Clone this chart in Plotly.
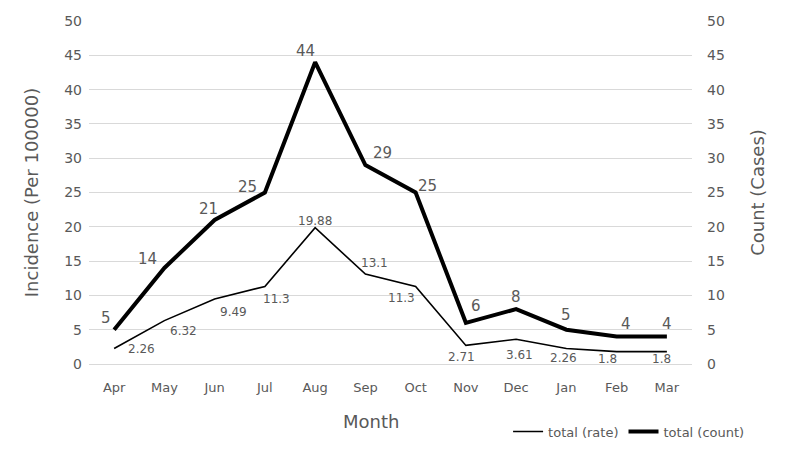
import plotly.graph_objects as go

months = ["Apr", "May", "Jun", "Jul", "Aug", "Sep", "Oct", "Nov", "Dec", "Jan", "Feb", "Mar"]
rate = [2.26, 6.32, 9.49, 11.3, 19.88, 13.1, 11.3, 2.71, 3.61, 2.26, 1.8, 1.8]
count = [5, 14, 21, 25, 44, 29, 25, 6, 8, 5, 4, 4]
y_ticks = [0, 5, 10, 15, 20, 25, 30, 35, 40, 45, 50]

# label pixel offsets (style only)
rate_dx = [27, 19, 19, 12, 0, 9, -14, -4, 3, -3, -9, -5]
rate_dy = [0, -10, -13, -13, 7, 11, -12, -12, -16, -9, -7, -7]
count_dx = [-8, -17, -6, -17, -10, 17, 12, 10, 0, 0, 9, 0]
count_dy = [12, 9, 11, 6, 11, 12, 7, 17, 12, 15, 13, 13]

FONT = "DejaVu Sans"
GRAY = "#595959"

fig = go.Figure()
fig.add_trace(go.Scatter(
    x=months, y=rate, name="total (rate)", mode="lines",
    line=dict(color="black", width=1.6), yaxis="y",
))
fig.add_trace(go.Scatter(
    x=months, y=count, name="total (count)", mode="lines",
    line=dict(color="black", width=4), yaxis="y2",
))

for m, v, dx, dy in zip(months, rate, rate_dx, rate_dy):
    fig.add_annotation(x=m, y=v, xref="x", yref="y", text=str(v), showarrow=False,
                       xshift=dx, yshift=dy, xanchor="center", yanchor="middle",
                       font=dict(family=FONT, size=12, color=GRAY))
for m, v, dx, dy in zip(months, count, count_dx, count_dy):
    fig.add_annotation(x=m, y=v, xref="x", yref="y2", text=str(v), showarrow=False,
                       xshift=dx, yshift=dy, xanchor="center", yanchor="middle",
                       font=dict(family=FONT, size=15, color=GRAY))

fig.add_annotation(x=0.468, y=-0.169, xref="paper", yref="paper", text="Month",
                   showarrow=False, xanchor="center", yanchor="middle",
                   font=dict(family=FONT, size=18, color=GRAY))

fig.update_layout(
    width=800, height=451,
    margin=dict(l=81, r=116, t=13, b=95),
    paper_bgcolor="white", plot_bgcolor="white",
    font=dict(family=FONT, color=GRAY),
    showlegend=True,
    legend=dict(orientation="h", x=0.695, y=-0.197, xanchor="left", yanchor="middle",
                font=dict(family=FONT, size=13, color=GRAY), itemwidth=30,
                bgcolor="rgba(0,0,0,0)"),
    xaxis=dict(
        type="category", range=[-0.5, 11.5], showgrid=False, showline=False,
        ticks="", tickfont=dict(family=FONT, size=13, color=GRAY),
        ticklabelstandoff=14, automargin=False,
    ),
    yaxis=dict(
        range=[0, 50], tickvals=y_ticks, showgrid=True, gridcolor="#d9d9d9", gridwidth=1.2,
        zeroline=True, zerolinecolor="#d9d9d9", zerolinewidth=1.2, showline=False, ticks="",
        tickfont=dict(family=FONT, size=14, color=GRAY), ticklabelstandoff=6,
        automargin=False,
        title=dict(text="Incidence (Per 100000)", font=dict(family=FONT, size=18, color=GRAY), standoff=20),
    ),
    yaxis2=dict(
        range=[0, 50], tickvals=y_ticks, overlaying="y", side="right", showgrid=False,
        zeroline=False, showline=False, ticks="", automargin=False,
        tickfont=dict(family=FONT, size=14, color=GRAY), ticklabelstandoff=14,
        title=dict(text="Count (Cases)", font=dict(family=FONT, size=18, color=GRAY), standoff=27),
    ),
)

fig.write_html("out.html")
